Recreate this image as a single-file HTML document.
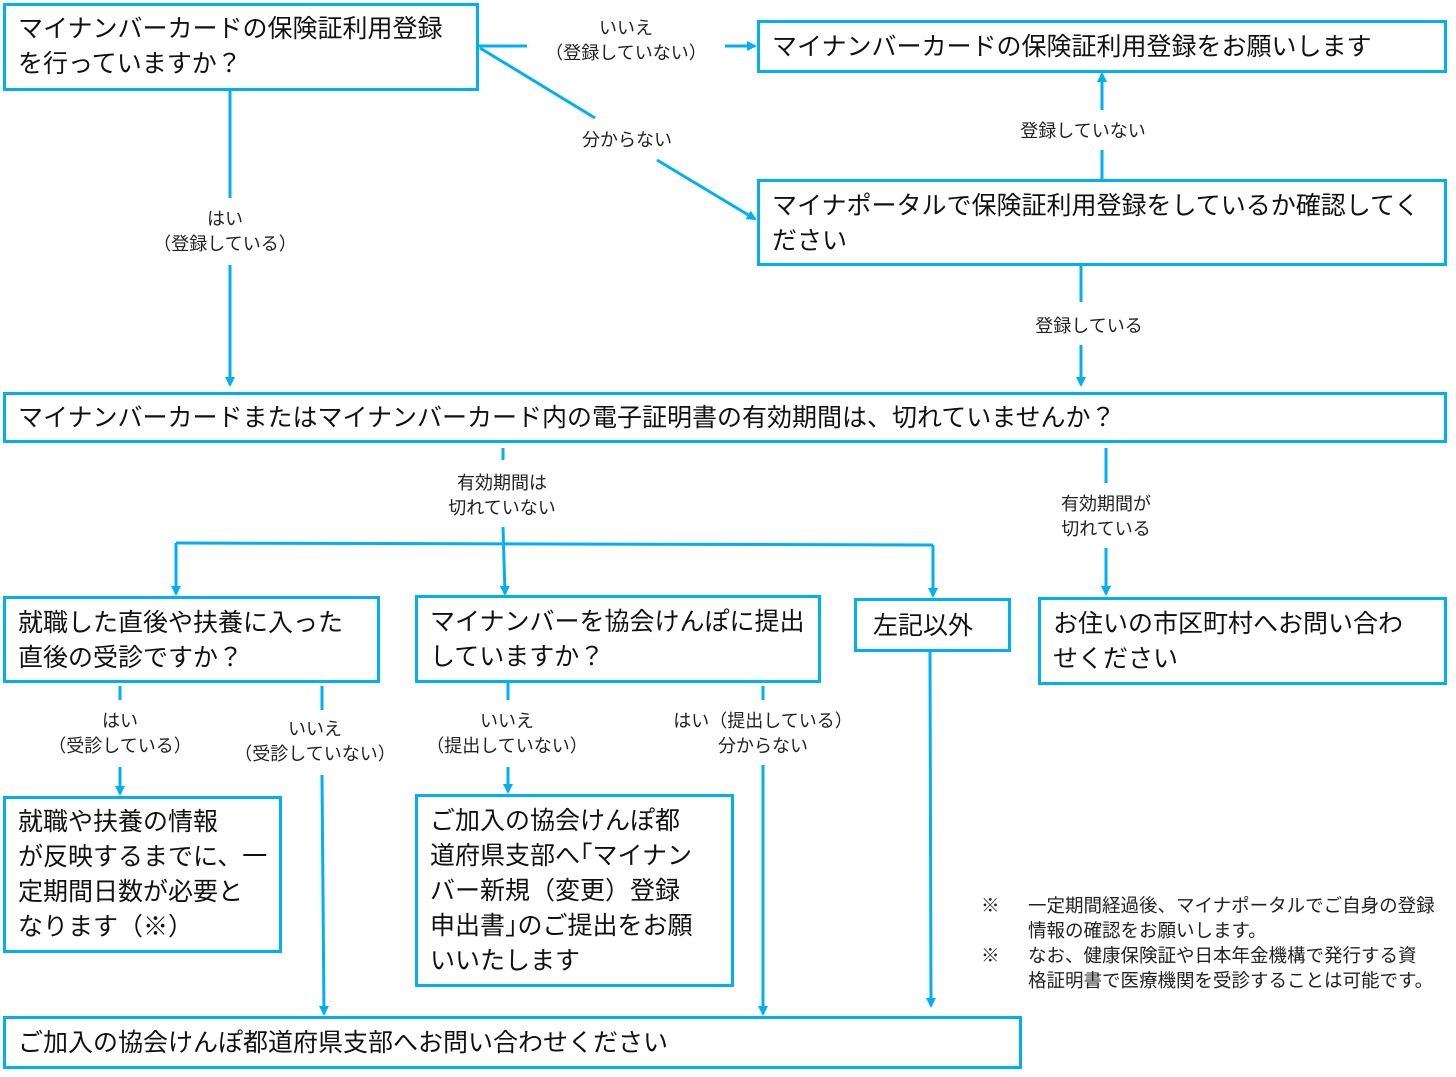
<!DOCTYPE html>
<html><head><meta charset="utf-8"><style>
body{margin:0;width:1456px;height:1077px;background:#fff;position:relative;overflow:hidden;font-family:"Liberation Sans","Noto Sans CJK JP",sans-serif;color:#111}
.b{position:absolute;border:3px solid #00b0f0;box-sizing:border-box;background:#fff}
.t{position:absolute;font-size:25px;line-height:35px;white-space:nowrap;margin-top:2px}
.l{position:absolute;font-size:18px;line-height:25px;white-space:nowrap;text-align:center;transform:translateX(-50%);color:#222;margin-top:2px}
.n{position:absolute;font-size:18.5px;line-height:25px;white-space:nowrap;color:#222;margin-top:1px}
svg{position:absolute;left:0;top:0}
</style></head><body>
<svg width="1456" height="1077">
<defs><marker id="a" markerWidth="10" markerHeight="10" refX="8" refY="5" orient="auto" markerUnits="userSpaceOnUse"><path d="M0,0 L10,5 L0,10 z" fill="#00b0f0"/></marker></defs>
<g stroke="#00b0f0" stroke-width="3" fill="none">
<line x1="478" y1="46" x2="527" y2="46"/>
<line x1="725" y1="46" x2="755" y2="46" marker-end="url(#a)"/>
<line x1="480" y1="48" x2="595" y2="118"/>
<line x1="657" y1="160" x2="755" y2="219" marker-end="url(#a)"/>
<line x1="230" y1="90" x2="230" y2="198"/>
<line x1="230" y1="265" x2="230" y2="385" marker-end="url(#a)"/>
<line x1="1102" y1="179" x2="1102" y2="150"/>
<line x1="1102" y1="110" x2="1102" y2="74" marker-end="url(#a)"/>
<line x1="1081" y1="265" x2="1081" y2="302"/>
<line x1="1081" y1="345" x2="1081" y2="385" marker-end="url(#a)"/>
<line x1="503" y1="448" x2="503" y2="460"/>
<line x1="503" y1="527" x2="505" y2="594" marker-end="url(#a)"/>
<line x1="176" y1="543" x2="933" y2="545"/>
<line x1="176" y1="543" x2="176" y2="594" marker-end="url(#a)"/>
<line x1="933" y1="545" x2="933" y2="596" marker-end="url(#a)"/>
<line x1="1106" y1="448" x2="1106" y2="483"/>
<line x1="1106" y1="548" x2="1106" y2="594" marker-end="url(#a)"/>
<line x1="120" y1="686" x2="120" y2="700"/>
<line x1="120" y1="767" x2="120" y2="794" marker-end="url(#a)"/>
<line x1="322" y1="686" x2="322" y2="710"/>
<line x1="322" y1="775" x2="324" y2="1014" marker-end="url(#a)"/>
<line x1="508" y1="680" x2="508" y2="700"/>
<line x1="508" y1="767" x2="508" y2="792" marker-end="url(#a)"/>
<line x1="763" y1="686" x2="763" y2="700"/>
<line x1="763" y1="765" x2="763" y2="1014" marker-end="url(#a)"/>
<line x1="930" y1="651" x2="931" y2="1006" marker-end="url(#a)"/>
</g></svg>

<div class="b" style="left:3px;top:3px;width:476px;height:88px"></div>
<div class="t" style="left:18px;top:10px">マイナンバーカードの保険証利用登録<br>を行っていますか？</div>
<div class="b" style="left:757px;top:20px;width:690px;height:53px"></div>
<div class="t" style="left:772px;top:28px">マイナンバーカードの保険証利用登録をお願いします</div>
<div class="b" style="left:757px;top:179px;width:690px;height:87px"></div>
<div class="t" style="left:772px;top:187px">マイナポータルで保険証利用登録をしているか確認してく<br>ださい</div>
<div class="b" style="left:3px;top:392px;width:1444px;height:51px"></div>
<div class="t" style="left:18px;top:399px">マイナンバーカードまたはマイナンバーカード内の電子証明書の有効期間は、切れていませんか？</div>
<div class="b" style="left:3px;top:596px;width:377px;height:87px"></div>
<div class="t" style="left:18px;top:604px">就職した直後や扶養に入った<br>直後の受診ですか？</div>
<div class="b" style="left:415px;top:595px;width:406px;height:88px"></div>
<div class="t" style="left:430px;top:603px">マイナンバーを協会けんぽに提出<br>していますか？</div>
<div class="b" style="left:854px;top:598px;width:157px;height:54px"></div>
<div class="t" style="left:873px;top:607px">左記以外</div>
<div class="b" style="left:1038px;top:597px;width:409px;height:88px"></div>
<div class="t" style="left:1053px;top:605px">お住いの市区町村へお問い合わ<br>せください</div>
<div class="b" style="left:3px;top:796px;width:279px;height:157px"></div>
<div class="t" style="left:18px;top:803px">就職や扶養の情報<br>が反映するまでに、一<br>定期間日数が必要と<br>なります（※）</div>
<div class="b" style="left:415px;top:794px;width:319px;height:193px"></div>
<div class="t" style="left:430px;top:802px">ご加入の協会けんぽ都<br>道府県支部へ｢マイナン<br>バー新規（変更）登録<br>申出書｣のご提出をお願<br>いいたします</div>
<div class="b" style="left:3px;top:1016px;width:1019px;height:53px"></div>
<div class="t" style="left:18px;top:1024px">ご加入の協会けんぽ都道府県支部へお問い合わせください</div>

<div class="l" style="left:626px;top:14px">いいえ<br>（登録していない）</div>
<div class="l" style="left:627px;top:126px">分からない</div>
<div class="l" style="left:225px;top:205px">はい<br>（登録している）</div>
<div class="l" style="left:1083px;top:117px">登録していない</div>
<div class="l" style="left:1089px;top:312px">登録している</div>
<div class="l" style="left:502px;top:469px">有効期間は<br>切れていない</div>
<div class="l" style="left:1106px;top:490px">有効期間が<br>切れている</div>
<div class="l" style="left:120px;top:707px">はい<br>（受診している）</div>
<div class="l" style="left:315px;top:715px">いいえ<br>（受診していない）</div>
<div class="l" style="left:507px;top:707px">いいえ<br>（提出していない）</div>
<div class="l" style="left:763px;top:707px">はい（提出している）<br>分からない</div>

<div class="n" style="left:981px;top:892px">※</div>
<div class="n" style="left:1028px;top:892px">一定期間経過後、マイナポータルでご自身の登録<br>情報の確認をお願いします。</div>
<div class="n" style="left:981px;top:942px">※</div>
<div class="n" style="left:1028px;top:942px">なお、健康保険証や日本年金機構で発行する資<br>格証明書で医療機関を受診することは可能です。</div>
</body></html>
